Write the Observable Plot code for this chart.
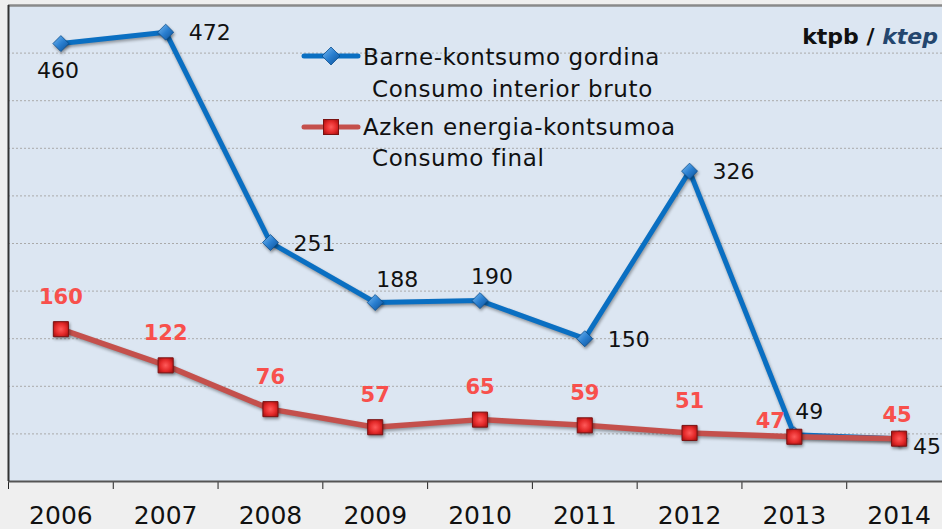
<!DOCTYPE html>
<html>
<head>
<meta charset="utf-8">
<script src="https://cdn.jsdelivr.net/npm/d3@7"></script>
<script src="https://cdn.jsdelivr.net/npm/@observablehq/plot@0.6"></script>
<style>
  html, body { margin: 0; padding: 0; background: #efefef; overflow: hidden; }
  #wrap { position: relative; width: 942px; height: 529px; font-family: "DejaVu Sans", sans-serif; overflow: hidden; }
  #wrap > svg { display: block; }
  g[aria-label="line"] path { filter: drop-shadow(1px 2px 1.5px rgba(0,0,0,0.35)); }
  g[aria-label="dot"] path { filter: drop-shadow(1px 2px 1.5px rgba(0,0,0,0.4)); }
  .legtext { position: absolute; font-size: 23px; letter-spacing: 0.6px; line-height: 30px; height: 30px; white-space: nowrap; color: #111; }
  .swatch { position: absolute; }
  .unit { position: absolute; right: 4px; top: 22px; line-height: 30px; font-size: 22px; font-weight: bold; color: #111; white-space: nowrap; }
  .unit i { color: #24466e; }
</style>
</head>
<body>
<svg width="0" height="0" style="position:absolute">
  <defs>
    <linearGradient id="gradBlue" x1="0" y1="0" x2="1" y2="1">
      <stop offset="0" stop-color="#7bbcf2"/>
      <stop offset="0.5" stop-color="#2a7fd0"/>
      <stop offset="1" stop-color="#0b4f96"/>
    </linearGradient>
    <radialGradient id="gradRed" cx="0.5" cy="0.5" r="0.6">
      <stop offset="0" stop-color="#ff5a5a"/>
      <stop offset="0.6" stop-color="#e42a2a"/>
      <stop offset="1" stop-color="#b01414"/>
    </radialGradient>
  </defs>
</svg>
<div id="wrap"></div>
<script>
// ---- data ----
const years = [2006, 2007, 2008, 2009, 2010, 2011, 2012, 2013, 2014];
const grossConsumption = [460, 472, 251, 188, 190, 150, 326, 49, 45];
const finalConsumption = [160, 122, 76, 57, 65, 59, 51, 47, 45];
const grossLabelPlacement = ["below", "right", "right", "aboveRight", "above", "right", "right", "aboveRight", "belowRight"];
const finalLabelPlacement = ["above", "above", "above", "above", "above", "above", "above", "aboveLeft", "aboveNear"];
const gridValues = [50, 100, 150, 200, 250, 300, 350, 400, 450];
const seriesGross = ["Barne-kontsumo gordina", "Consumo interior bruto"];
const seriesFinal = ["Azken energia-kontsumoa", "Consumo final"];
const unitLabel = ["ktpb", "ktep"];

// ---- layout / style ----
const blue = "#0a6fc2";
const red = "#c4504c";
const redText = "#f8504c";
const grossPlace = {
  below:      { dx: -3, dy: 27, textAnchor: "middle" },
  right:      { dx: 23, dy: 1, textAnchor: "start" },
  aboveRight: { dx: 1, dy: -23, textAnchor: "start" },
  above:      { dx: 12, dy: -24, textAnchor: "middle" },
  belowRight: { dx: 14, dy: 8, textAnchor: "start" }
};
const finalPlace = {
  above:     { dx: 0, dy: -32, textAnchor: "middle" },
  aboveLeft: { dx: -24, dy: -15, textAnchor: "middle" },
  aboveNear: { dx: -2, dy: -23, textAnchor: "middle" }
};

const data = years.map((year, i) => ({
  year,
  gross: grossConsumption[i],
  final: finalConsumption[i],
  gp: grossLabelPlacement[i],
  fp: finalLabelPlacement[i]
}));
const boundaries = years.map(y => y - 0.5).concat([years[years.length - 1] + 0.5]);

const grossLabels = Object.entries(grossPlace).map(([k, o]) =>
  Plot.text(data.filter(d => d.gp === k), {
    x: "year", y: "gross", text: d => String(d.gross),
    ...o, fontSize: 22, fill: "#111"
  }));
const finalLabels = Object.entries(finalPlace).map(([k, o]) =>
  Plot.text(data.filter(d => d.fp === k), {
    x: "year", y: "final", text: d => String(d.final),
    ...o, fontSize: 21, fontWeight: "bold", fill: redText
  }));

const chart = Plot.plot({
  width: 942,
  height: 529,
  marginTop: 5,
  marginLeft: 8,
  marginRight: 0,
  marginBottom: 48,
  style: { background: "transparent", fontFamily: "DejaVu Sans, sans-serif", color: "#222" },
  x: { domain: [boundaries[0], boundaries[boundaries.length - 1]], range: [8, 951], ticks: boundaries, tickFormat: () => "", tickSize: 8, label: null },
  y: { domain: [0, 500], axis: null },
  marks: [
    Plot.frame({ fill: "#dce6f2", stroke: "none" }),
    Plot.ruleY(gridValues, { stroke: "#aaaaaa", strokeDasharray: "2,2", strokeWidth: 1 }),
    Plot.ruleY([500], { stroke: "#8a8a8a", strokeWidth: 2.5 }),
    Plot.ruleY([0], { stroke: "#555", strokeWidth: 2 }),
    Plot.ruleX([boundaries[0]], { stroke: "#333", strokeWidth: 2 }),
    Plot.text(years, { x: d => d, frameAnchor: "bottom", dy: 42, text: d => String(d), fontSize: 25, fill: "#111" }),
    Plot.line(data, { x: "year", y: "gross", stroke: blue, strokeWidth: 5, strokeLinejoin: "miter" }),
    Plot.dot(data, { x: "year", y: "gross", symbol: "diamond2", r: 7.2, fill: "url(#gradBlue)", stroke: "#0b4f8f", strokeWidth: 0.8 }),
    Plot.line(data, { x: "year", y: "final", stroke: red, strokeWidth: 5.5 }),
    Plot.dot(data, { x: "year", y: "final", symbol: "square", r: 8.5, fill: "url(#gradRed)", stroke: "#7a1212", strokeWidth: 1 }),
    ...grossLabels,
    ...finalLabels
  ]
});

const wrap = document.getElementById("wrap");
wrap.appendChild(chart);

// legend overlay
function addSwatch(top, color, shape) {
  const s = document.createElementNS("http://www.w3.org/2000/svg", "svg");
  s.setAttribute("class", "swatch");
  s.setAttribute("width", "60");
  s.setAttribute("height", "24");
  s.style.left = "301px";
  s.style.top = top + "px";
  const marker = shape === "diamond"
    ? `<path d="M30,3 L39,12 L30,21 L21,12 Z" fill="url(#gradBlue)" stroke="#0b4f8f" stroke-width="0.8"/>`
    : `<rect x="22.5" y="4.5" width="15" height="15" fill="url(#gradRed)" stroke="#7a1212" stroke-width="1"/>`;
  s.innerHTML = `<line x1="3" y1="12" x2="57" y2="12" stroke="${color}" stroke-width="5" stroke-linecap="round"/>` + marker;
  wrap.appendChild(s);
}
function addText(txt, left, top) {
  const d = document.createElement("div");
  d.className = "legtext";
  d.style.left = left + "px";
  d.style.top = top + "px";
  d.textContent = txt;
  wrap.appendChild(d);
}
addSwatch(44, blue, "diamond");
addText(seriesGross[0], 363, 42);
addText(seriesGross[1], 372, 74);
addSwatch(115, red, "square");
addText(seriesFinal[0], 363, 112);
addText(seriesFinal[1], 372, 143);

const u = document.createElement("div");
u.className = "unit";
u.innerHTML = `${unitLabel[0]} / <i>${unitLabel[1]}</i>`;
wrap.appendChild(u);
</script>
</body>
</html>
